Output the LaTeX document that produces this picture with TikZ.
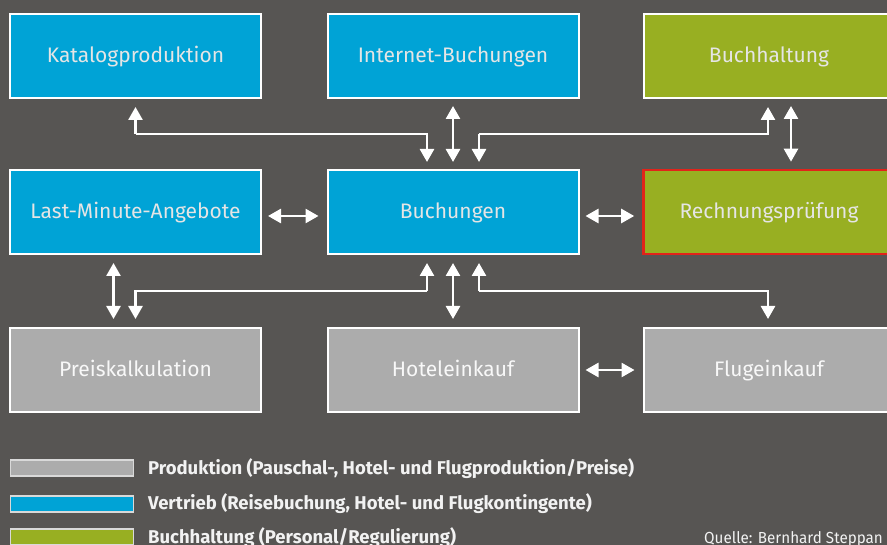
\documentclass[tikz,border=0pt]{standalone}
\usepackage{fontspec}
\setmainfont{Fira Sans}
\newfontfamily\legfont{Fira Sans}
\newfontfamily\srcfont{Fira Sans}[FakeStretch=0.95]
\usetikzlibrary{arrows.meta,calc}
\definecolor{bgc}{RGB}{87,85,83}
\definecolor{bluec}{RGB}{0,163,214}
\definecolor{greenc}{RGB}{152,175,34}
\definecolor{greyc}{RGB}{172,172,172}
\definecolor{redc}{RGB}{226,35,26}
\begin{document}
\begin{tikzpicture}[x=1pt,y=-1pt,
  boxbase/.style={rectangle, draw=white, line width=2pt, minimum width=251pt, minimum height=84pt, inner sep=0pt, text height=15pt, text depth=2pt, font=\fontsize{21}{25}\selectfont, text=white!90!black},
  bluebox/.style={boxbase, fill=bluec},
  greenbox/.style={boxbase, fill=greenc},
  greybox/.style={boxbase, fill=greyc, text=white!92!greyc},
  conn/.style={draw=white, line width=2.6pt},
  dbl/.style={conn, {Triangle[width=14pt,length=13pt]}-{Triangle[width=14pt,length=13pt]}},
  sgl/.style={conn, -{Triangle[width=14pt,length=13pt]}},
  swatch/.style={rectangle, draw=white!85!black, line width=1.2pt, minimum width=123pt, minimum height=16pt, inner sep=0pt},
  legtext/.style={anchor=base west, inner sep=0pt, text=white!95!black, font=\legfont\bfseries\fontsize{18.5}{22}\selectfont}
]
\useasboundingbox[fill=bgc] (0,0) rectangle (887,545);

% boxes
\node[bluebox] (kat) at (135.5,56) {Katalogproduktion};
\node[bluebox] (inet) at (453,56) {Internet-Buchungen};
\node[greenbox] (buchh) at (769,56) {Buchhaltung};
\node[bluebox] (lm) at (135.5,212) {Last-Minute-Angebote};
\node[bluebox] (buch) at (453,212) {Buchungen};
\node[greenbox, draw=redc, line width=2.6pt] (rech) at (769,212) {Rechnungsprüfung};
\node[greybox] (preis) at (135.5,370) {Preiskalkulation};
\node[greybox] (hotel) at (453,370) {Hoteleinkauf};
\node[greybox] (flug) at (769,370) {Flugeinkauf};

% row 1 -> row 2
\draw[sgl, shorten >=8pt] (kat.south |- 0,134) -- (kat.south);
\draw[sgl, shorten >=7pt] (kat.south |- 0,134) -| ([xshift=-26pt]buch.north);
\draw[dbl, shorten <=7pt, shorten >=7pt] (inet.south) -- (buch.north);
\draw[sgl, shorten >=7pt] ([xshift=26pt]buch.north |- 0,134) -- ([xshift=26pt]buch.north);
\draw[sgl, shorten >=8pt] ([xshift=26pt]buch.north |- 0,134) -| ([xshift=-1pt]buchh.south);
\draw[dbl, shorten <=7pt, shorten >=7pt] ([xshift=22pt]buchh.south) -- ([xshift=22pt]rech.north);

% row 2 horizontals
\draw[dbl, shorten <=6pt, shorten >=8pt] ([yshift=-4pt]lm.east) -- ([yshift=-4pt]buch.west);
\draw[dbl, shorten <=6pt, shorten >=8pt] ([yshift=-4pt]buch.east) -- ([yshift=-4pt]rech.west);

% row 2 -> row 3
\draw[dbl, shorten <=8pt, shorten >=8pt] ([xshift=-22pt]lm.south) -- ([xshift=-22pt]preis.north);
\draw[sgl, shorten >=8pt] ([xshift=-26pt]buch.south |- 0,291) -- ([xshift=-26pt]buch.south);
\draw[sgl, shorten >=8pt] ([xshift=-26pt]buch.south |- 0,291) -| (preis.north);
\draw[dbl, shorten <=8pt, shorten >=8pt] (buch.south) -- (hotel.north);
\draw[sgl, shorten >=8pt] ([xshift=26pt]buch.south |- 0,291) -- ([xshift=26pt]buch.south);
\draw[sgl, shorten >=8pt] ([xshift=26pt]buch.south |- 0,291) -| ([xshift=-1pt]flug.north);

% row 3 horizontal
\draw[dbl, shorten <=6pt, shorten >=8pt] (hotel.east) -- (flug.west);

% legend
\node[swatch, fill=greyc] (sw1) at (72,468) {};
\node[swatch, fill=bluec] (sw2) at (72,504) {};
\node[swatch, fill=greenc] (sw3) at (72,537) {};
\node[legtext] (l1) at (148,475) {Produktion (Pauschal-, Hotel- und Flugproduktion/Preise)};
\node[legtext] (l2) at (148,509) {Vertrieb (Reisebuchung, Hotel- und Flugkontingente)};
\node[legtext] (l3) at (148,543) {Buchhaltung (Personal/Regulierung)};
\node[anchor=base west, inner sep=0pt, text=white!95!black, font=\srcfont\fontsize{16}{19}\selectfont] (src) at (704,543) {Quelle: Bernhard Steppan};
\end{tikzpicture}
\end{document}
